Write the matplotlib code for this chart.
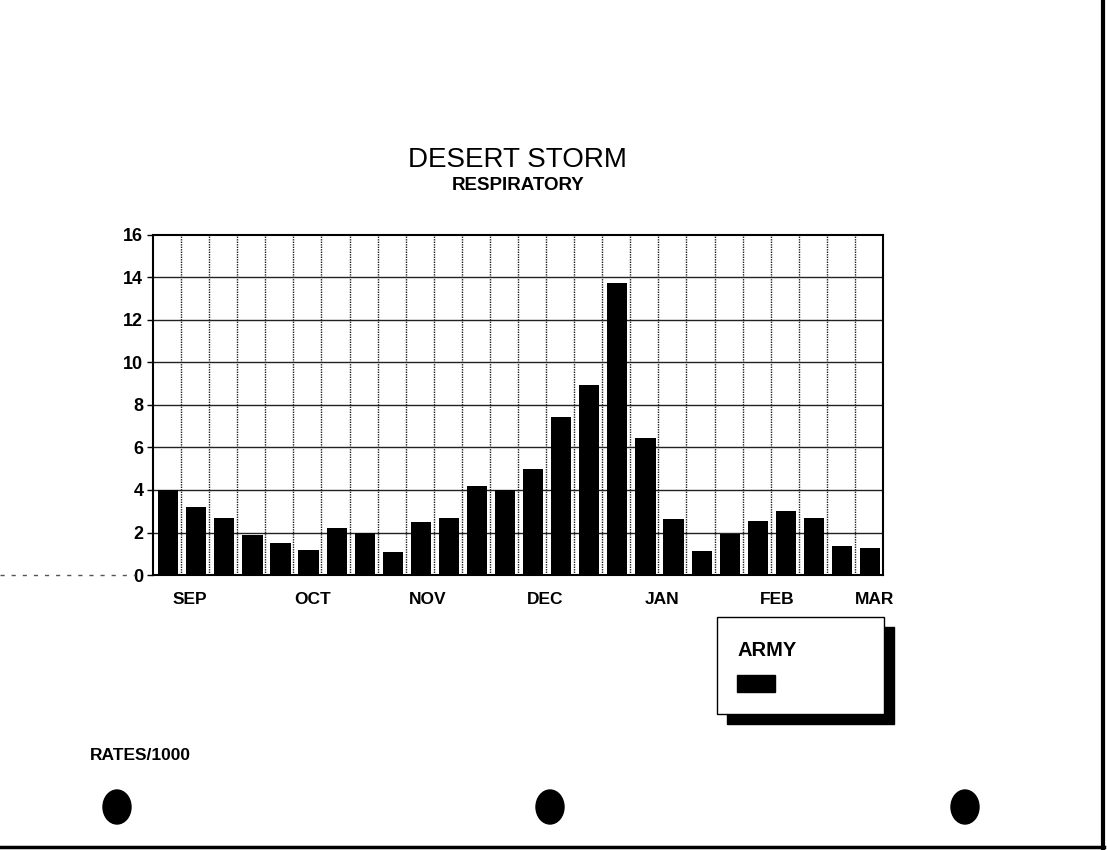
import numpy as np
import matplotlib.pyplot as plt
from matplotlib.patches import Rectangle, Ellipse

# weekly respiratory rates per 1000, army
weeks = list(range(26))
army_rates = [4.0, 3.2, 2.7, 1.9, 1.5, 1.2, 2.2, 2.0, 1.1, 2.5, 2.7, 4.2, 4.0,
              5.0, 7.45, 8.95, 13.75, 6.45, 2.65, 1.15, 1.95, 2.55, 3.0, 2.7,
              1.35, 1.25]
months = ['SEP', 'OCT', 'NOV', 'DEC', 'JAN', 'FEB', 'MAR']
month_pos = [0.78, 5.16, 9.25, 13.42, 17.59, 21.68, 25.17]

plt.rcParams['font.family'] = ['Liberation Sans', 'DejaVu Sans']

fig = plt.figure(figsize=(11.07, 8.5), dpi=100)
ax = fig.add_axes([153 / 1107, 275 / 850, 730 / 1107, 340 / 850])

ax.bar(weeks, army_rates, width=0.72, color='black', zorder=3)

ax.set_xlim(-0.54, 25.46)
ax.set_ylim(0, 16)
ax.set_yticks(np.arange(0, 17, 2))
ax.set_yticklabels([str(v) for v in range(0, 17, 2)], fontsize=13, fontweight='bold')
ax.set_xticks(month_pos)
ax.set_xticklabels(months, fontsize=12.5, fontweight='bold')
ax.tick_params(axis='x', length=0, pad=12)
ax.tick_params(axis='y', length=4, width=1, pad=3)

for y in range(2, 16, 2):
    ax.axhline(y, color='#222222', lw=1.0, zorder=1)
for i in range(25):
    ax.axvline(i + 0.46, color='#222222', lw=1.0, ls=(0, (1, 0.8)), zorder=1)

for s in ax.spines.values():
    s.set_linewidth(1.5)
    s.set_color('black')

fig.text(517 / 1107, 1 - 160 / 850, 'DESERT STORM', fontsize=20,
         ha='center', va='center', fontweight='medium')
fig.text(518 / 1107, 1 - 186 / 850, 'RESPIRATORY', fontsize=13.5,
         fontweight='bold', ha='center', va='center')
fig.text(90 / 1107, 1 - 755 / 850, 'RATES/1000', fontsize=12.5,
         fontweight='bold', ha='left', va='center')

# legend box with drop shadow
fx = lambda px: px / 1107
fy = lambda py: 1 - py / 850
fig.patches.append(Rectangle((fx(727), fy(724)), fx(894) - fx(727), fy(627) - fy(724),
                             transform=fig.transFigure, color='black', zorder=1))
fig.patches.append(Rectangle((fx(717), fy(714)), fx(884) - fx(717), fy(617) - fy(714),
                             transform=fig.transFigure, facecolor='white',
                             edgecolor='black', lw=1.0, zorder=2))
fig.patches.append(Rectangle((fx(737), fy(692)), fx(775) - fx(737), fy(675) - fy(692),
                             transform=fig.transFigure, color='black', zorder=3))
fig.text(fx(737), fy(651), 'ARMY', fontsize=14.5, fontweight='bold',
         ha='left', va='center', zorder=4)

# punch holes
for cx in [117, 550, 965]:
    fig.patches.append(Ellipse((fx(cx), fy(807)), 28 / 1107, 34 / 850,
                               transform=fig.transFigure, color='black'))

# page edges
fig.add_artist(plt.Line2D([fx(1103), fx(1103)], [fy(0), fy(848)], color='black', lw=3))
fig.add_artist(plt.Line2D([fx(0), fx(1104)], [fy(847), fy(847)], color='black', lw=2.5))
fig.add_artist(plt.Line2D([fx(0), fx(135)], [fy(575), fy(575)], color='#555555',
                          lw=1, ls=(0, (3, 5))))

fig.savefig('out.png', dpi=100, facecolor='white')
